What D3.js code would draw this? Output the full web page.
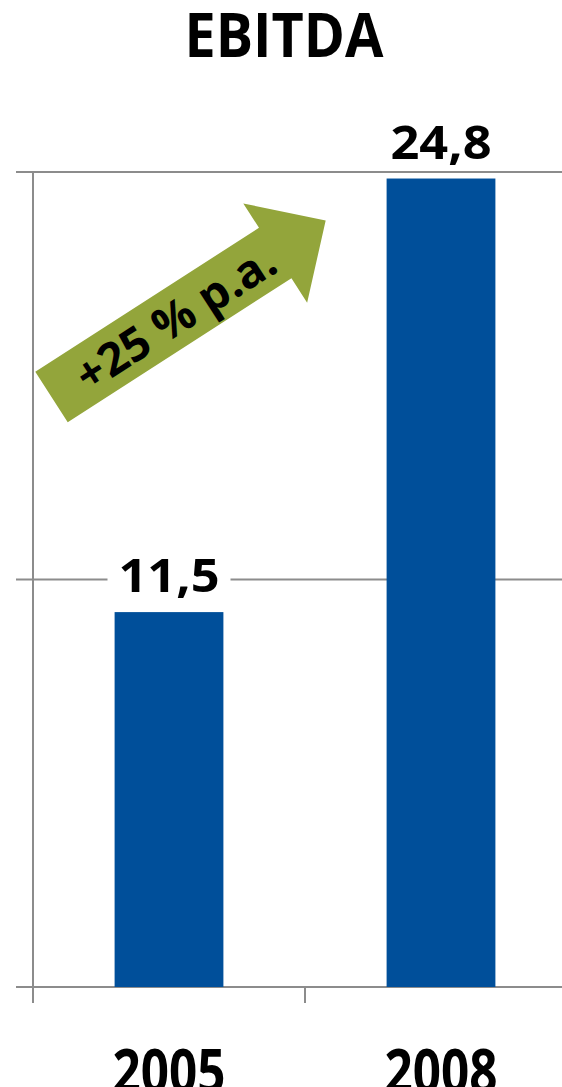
<!DOCTYPE html>
<html>
<head>
<meta charset="utf-8">
<script src="https://cdn.jsdelivr.net/npm/d3@7"></script>
<style>
  html, body { margin: 0; padding: 0; background: #fff; }
  svg { display: block; }
  text { font-family: "Open Sans", "Noto Sans", sans-serif; font-weight: 700; fill: #000; }
</style>
</head>
<body>
<svg id="chart" width="562" height="1087"></svg>
<script>
// EBITDA, 2005 vs 2008
const years = ["2005", "2008"];
const ebitda = [11.5, 24.8];
const valueLabels = ["11,5", "24,8"];
const yTicks = [0, 12.5, 25];
const growthLabel = "+25 % p.a.";
const title = "EBITDA";

const W = 562, H = 1087;
const svg = d3.select("#chart");

const x = d3.scaleBand().domain(years).range([33, 577]).paddingInner(0.6).paddingOuter(0.3);
const y = d3.scaleLinear().domain([0, 25]).range([987, 172]);

const axisColor = "#8c8c8c";

// horizontal gridlines
svg.append("g")
  .selectAll("line")
  .data(yTicks)
  .join("line")
  .attr("x1", 16).attr("x2", W)
  .attr("y1", d => y(d)).attr("y2", d => y(d))
  .attr("stroke", axisColor).attr("stroke-width", 2);

// vertical axis
svg.append("line")
  .attr("x1", 33).attr("x2", 33)
  .attr("y1", y(25)).attr("y2", y(0) + 16)
  .attr("stroke", axisColor).attr("stroke-width", 2);

// category boundary ticks below the baseline
const step = x.step();
const boundaries = [33, 33 + step];
svg.append("g")
  .selectAll("line")
  .data(boundaries)
  .join("line")
  .attr("x1", d => d).attr("x2", d => d)
  .attr("y1", y(0)).attr("y2", y(0) + 16)
  .attr("stroke", axisColor).attr("stroke-width", 2);

// bars
svg.append("g")
  .selectAll("rect")
  .data(years)
  .join("rect")
  .attr("x", d => x(d))
  .attr("width", x.bandwidth())
  .attr("y", (d, i) => y(ebitda[i]))
  .attr("height", (d, i) => y(0) - y(ebitda[i]))
  .attr("fill", "#004f9a");

// value labels with white backing
const vl = svg.append("g");
years.forEach((yr, i) => {
  const cx = x(yr) + x.bandwidth() / 2;
  const by = y(ebitda[i]) - 20;
  const t = vl.append("text")
    .attr("x", cx).attr("y", by)
    .attr("text-anchor", "middle")
    .attr("font-size", 47)
    .attr("textLength", 101)
    .attr("lengthAdjust", "spacingAndGlyphs")
    .text(valueLabels[i]);
  const bb = t.node().getBBox();
  vl.insert("rect", "text")
    .attr("x", bb.x - 11).attr("width", bb.width + 22)
    .attr("y", bb.y + 4).attr("height", bb.height - 6)
    .attr("fill", "#fff");
});

// year labels
svg.append("g")
  .selectAll("text")
  .data(years)
  .join("text")
  .attr("x", d => x(d) + x.bandwidth() / 2)
  .attr("y", 1093)
  .attr("text-anchor", "middle")
  .attr("font-size", 60)
  .attr("textLength", 113)
  .attr("lengthAdjust", "spacingAndGlyphs")
  .text(d => d);

// title
svg.append("text")
  .attr("x", 284).attr("y", 57)
  .attr("text-anchor", "middle")
  .attr("font-size", 61)
  .attr("textLength", 199)
  .attr("lengthAdjust", "spacingAndGlyphs")
  .text(title);

// growth arrow
const arrowLen = 326, headStart = 266, shaftHalf = 30, headHalf = 59;
const angle = -32.75;
const tailX = 51.5, tailY = y(18.1);
const arrowPts = [
  [0, -shaftHalf], [headStart, -shaftHalf], [headStart, -headHalf],
  [arrowLen, 0],
  [headStart, headHalf], [headStart, shaftHalf], [0, shaftHalf]
];
const arrow = svg.append("g")
  .attr("transform", `translate(${tailX},${tailY}) rotate(${angle})`);
arrow.append("path")
  .attr("d", d3.line()(arrowPts) + "Z")
  .attr("fill", "#93a53b");
arrow.append("text")
  .attr("x", 147).attr("y", 17)
  .attr("text-anchor", "middle")
  .attr("font-size", 46)
  .attr("font-weight", 600)
  .attr("textLength", 228)
  .attr("lengthAdjust", "spacingAndGlyphs")
  .text(growthLabel);
</script>
</body>
</html>
